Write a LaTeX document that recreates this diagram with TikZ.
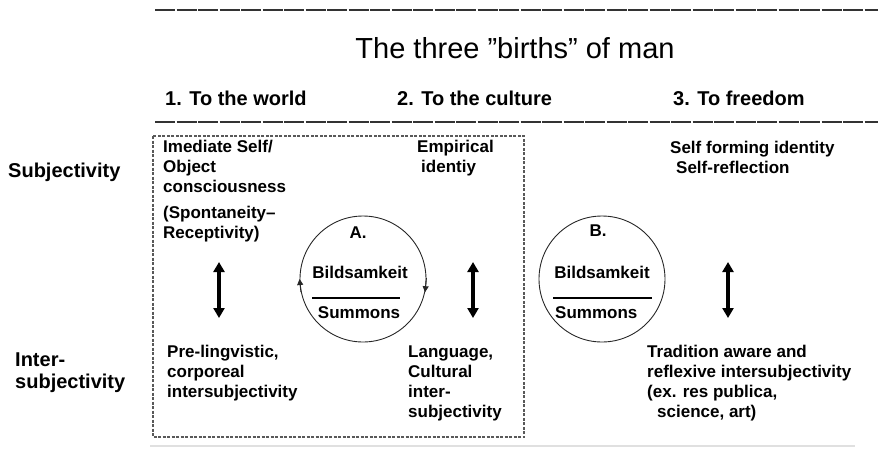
\documentclass[tikz,border=0pt]{standalone}
\usepackage{fontspec}
\setmainfont{Liberation Sans}
\usetikzlibrary{arrows.meta}
\begin{document}
\begin{tikzpicture}[x=1pt,y=-1pt,
        twoway/.style={line width=3.5pt, arrows={Triangle[width=11pt,length=10pt]-Triangle[width=11pt,length=10pt]}},
        spinstyle/.style={line width=0.9pt, draw=black!85, arrows={-Triangle[width=6pt,length=6pt]}}]
        \tikzstyle{textstyle}=[font=\bfseries\fontsize{17}{20}\selectfont, align=left, inner sep=0pt, anchor=base west]
        \tikzstyle{rowstyle}=[font=\bfseries\fontsize{20}{22}\selectfont, align=left, inner sep=0pt, anchor=base west]
        \tikzstyle{headstyle}=[font=\bfseries\fontsize{20}{24}\selectfont, inner sep=0pt, anchor=base west]
        \tikzstyle{ringstyle}=[shape=circle, draw=black!85, line width=0.9pt, minimum size=126pt, inner sep=0pt]
        \tikzstyle{headrule}=[line width=1.5pt, dash pattern=on 20pt off 1.5pt, draw=black!80]
        \useasboundingbox (0,0) rectangle (879,448);

        % draw the title between the two rules
        \draw[headrule] (155,10) -- (878,10);
        \node[font=\fontsize{29}{34}\selectfont, inner sep=0pt, anchor=base] (title) at (515,58) {The three ”births” of man};
        \node[headstyle] (birth1) at (165,105) {1. To the world};
        \node[headstyle] (birth2) at (397,105) {2. To the culture};
        \node[headstyle] (birth3) at (673,105) {3. To freedom};
        \draw[headrule] (155,122) -- (878,122);

        % row labels on the far left (multi-line nodes sit on their last line)
        \node[rowstyle] (subj) at (8,177) {Subjectivity};
        \node[rowstyle] (intersubj) at (15,388) {Inter-\\subjectivity};

        % dashed frame round the first two births
        \draw[black!65, line width=1.1pt, dash pattern=on 3pt off 1.5pt] (153,136) rectangle (524,437);

        % first birth
        \node[textstyle] (immediate) at (163,192) {Imediate Self/\\Object\\consciousness};
        \node[textstyle] (spont) at (163,238) {(Spontaneity–\\Receptivity)};
        \node[textstyle] (prelin) at (167,397) {Pre-lingvistic,\\corporeal\\intersubjectivity};
        \coordinate (w1) at (219,262);
        \coordinate (w2) at (219,318);
        \draw[twoway] (w1) -- (w2);

        % second birth
        \node[textstyle] (empir) at (417,172) {Empirical\\\hspace*{4pt}identiy};
        \node[textstyle] (lang) at (408,417) {Language,\\Cultural\\inter-\\subjectivity};
        \coordinate (c1) at (473,262);
        \coordinate (c2) at (473,318);
        \draw[twoway] (c1) -- (c2);

        % circle A with its turning arrows
        \node[ringstyle] (ringA) at (363,279) {};
        \node[textstyle, anchor=base] (letA) at (358,238) {A.};
        \node[textstyle, anchor=base] (bildA) at (360,278) {Bildsamkeit};
        \node[textstyle, anchor=base] (sumA) at (359,318) {Summons};
        \draw[line width=1.3pt] (312,298) -- (400,298);
        \draw[spinstyle] (ringA.192) -- (ringA.180);
        \draw[spinstyle] (ringA.1) -- (ringA.-12);

        % circle B
        \node[ringstyle] (ringB) at (602,279) {};
        \node[textstyle, anchor=base] (letB) at (598,236) {B.};
        \node[textstyle, anchor=base] (bildB) at (602,278) {Bildsamkeit};
        \node[textstyle] (sumB) at (555,318) {Summons};
        \draw[line width=1.3pt] (553,298) -- (652,298);

        % third birth
        \node[textstyle] (selfform) at (670,173) {Self forming identity\\\hspace*{6pt}Self-reflection};
        \node[textstyle] (tradition) at (647,417) {Tradition aware and\\reflexive intersubjectivity\\(ex. res publica,\\\hspace*{10pt}science, art)};
        \coordinate (f1) at (728,262);
        \coordinate (f2) at (728,318);
        \draw[twoway] (f1) -- (f2);

        % faint rule along the bottom
        \draw[black!12, line width=1.5pt] (150,446) -- (855,446);
\end{tikzpicture}
\end{document}
